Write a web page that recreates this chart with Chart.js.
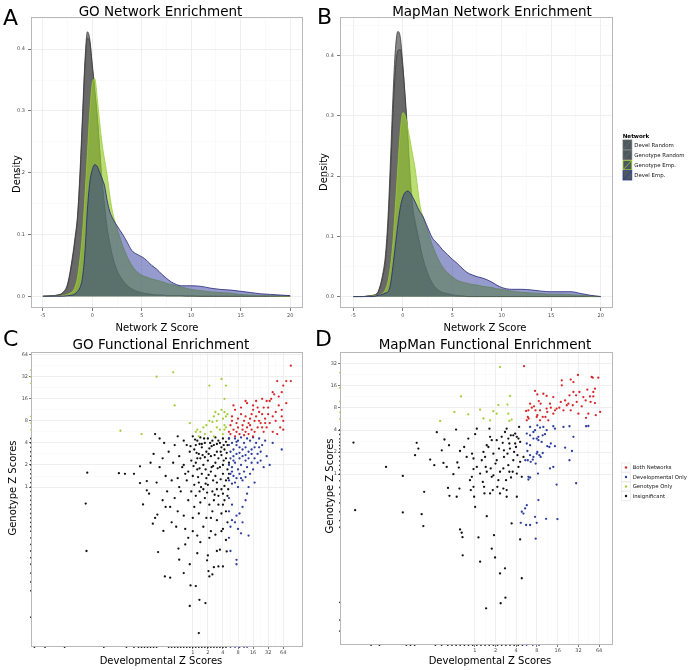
<!DOCTYPE html>
<html>
<head>
<meta charset="utf-8">
<title>Network and functional enrichment</title>
<script src="https://cdn.jsdelivr.net/npm/chart.js@4.4.1/dist/chart.umd.min.js"></script>
<style>
  html, body { margin: 0; padding: 0; background: #ffffff; }
  #fig { position: relative; width: 689px; height: 670px; overflow: hidden; background: #ffffff; }
  #fig canvas { position: absolute; }
  #overlay { position: absolute; left: 0; top: 0; font-family: 'DejaVu Sans', sans-serif; }
</style>
</head>
<body>
<div id="fig">
  <canvas id="chartA" width="310" height="335" style="left:0px;top:0px"></canvas>
  <canvas id="chartB" width="310" height="335" style="left:310px;top:0px"></canvas>
  <canvas id="chartC" width="310" height="335" style="left:0px;top:335px"></canvas>
  <canvas id="chartD" width="310" height="335" style="left:310px;top:335px"></canvas>
  <svg id="overlay" width="689" height="670" xmlns="http://www.w3.org/2000/svg">
    <g fill="#000" font-family="DejaVu Sans, sans-serif">
      <text x="3" y="24.5" font-size="22">A</text>
      <text x="317" y="24" font-size="22">B</text>
      <text x="3" y="346" font-size="22">C</text>
      <text x="315" y="346" font-size="22">D</text>
      <text x="160.5" y="15.5" font-size="13.5" text-anchor="middle">GO Network Enrichment</text>
      <text x="492" y="15.5" font-size="13.5" text-anchor="middle">MapMan Network Enrichment</text>
      <text x="161" y="348.5" font-size="13.5" text-anchor="middle">GO Functional Enrichment</text>
      <text x="485" y="348.5" font-size="13.5" text-anchor="middle">MapMan Functional Enrichment</text>
      <text x="157" y="331" font-size="10" text-anchor="middle">Network Z Score</text>
      <text x="485" y="331" font-size="10" text-anchor="middle">Network Z Score</text>
      <text transform="translate(19.5,174) rotate(-90)" font-size="10" text-anchor="middle">Density</text>
      <text transform="translate(326.5,172) rotate(-90)" font-size="10" text-anchor="middle">Density</text>
      <text transform="translate(16,488) rotate(-90)" font-size="10" text-anchor="middle">Genotype Z Scores</text>
      <text transform="translate(332.5,486) rotate(-90)" font-size="10" text-anchor="middle">Genotype Z Scores</text>
      <text x="161" y="664" font-size="10" text-anchor="middle">Developmental Z Scores</text>
      <text x="490" y="664" font-size="10" text-anchor="middle">Developmental Z Scores</text>
    </g>
    <g id="legendNet"></g>
    <g id="legendClass"></g>
  </svg>
</div>
<script>
Chart.defaults.font.family = "'DejaVu Sans', sans-serif";

// ---------- Density panels (A, B): x grid of Network Z Score ----------
const zGrid = [-5,-4,-3.5,-3,-2.5,-2,-1.75,-1.5,-1.25,-1,-0.75,-0.5,-0.25,0,0.25,0.5,0.75,1,1.25,1.5,1.75,2,2.5,3,3.5,4,4.5,5,5.5,6,6.5,7,7.5,8,8.5,9,9.5,10,11,12,13,14,15,16,17,18,19,20];

// Panel A – GO network enrichment densities
const goDevelRandom = [0,0.001,0.002,0.006,0.02, 0.065,0.095,0.13,0.2,0.29, 0.38,0.428,0.415,0.37,0.33, 0.29,0.235,0.18,0.14,0.108, 0.085,0.065,0.04,0.026,0.017, 0.011,0.008,0.005,0.004,0.003, 0.002,0.002,0.001,0.001,0.001, 0.001,0.0005,0.0005,0,0, 0,0,0,0,0, 0,0,0];
const goGenoRandom  = [0,0.001,0.002,0.005,0.018, 0.06,0.09,0.125,0.19,0.28, 0.37,0.418,0.41,0.375,0.335, 0.29,0.235,0.185,0.145,0.11, 0.088,0.068,0.042,0.028,0.018, 0.012,0.008,0.006,0.004,0.003, 0.002,0.002,0.001,0.001,0.001, 0.001,0.0005,0.0005,0,0, 0,0,0,0,0, 0,0,0];
const goGenoEmp     = [0,0,0,0.001,0.003, 0.008,0.015,0.03,0.06,0.1, 0.16,0.23,0.3,0.345,0.352, 0.32,0.28,0.245,0.22,0.195, 0.165,0.14,0.11,0.085,0.065, 0.05,0.04,0.034,0.031,0.028, 0.026,0.024,0.021,0.019,0.017, 0.015,0.013,0.011,0.009,0.007, 0.006,0.005,0.003,0.002,0.0015, 0.001,0.0005,0];
const goDevelEmp    = [0,0,0,0,0.001, 0.002,0.004,0.008,0.014,0.03, 0.07,0.14,0.185,0.205,0.213, 0.21,0.2,0.19,0.178,0.155, 0.138,0.128,0.114,0.102,0.088, 0.074,0.068,0.064,0.058,0.05, 0.044,0.036,0.029,0.023,0.019, 0.017,0.017,0.017,0.016,0.013, 0.011,0.01,0.008,0.006,0.004, 0.003,0.002,0.001];

// Panel B – MapMan network enrichment densities
const mmDevelRandom = [0,0,0.001,0.002,0.008, 0.04,0.07,0.13,0.225,0.33, 0.41,0.44,0.43,0.385,0.325, 0.26,0.19,0.145,0.125,0.105, 0.085,0.065,0.037,0.02,0.011, 0.006,0.004,0.002,0.001,0.001, 0,0,0,0,0, 0,0,0,0,0, 0,0,0,0,0, 0,0,0];
const mmGenoRandom  = [0,0,0.001,0.002,0.007, 0.035,0.06,0.115,0.2,0.3, 0.375,0.408,0.41,0.38,0.33, 0.27,0.2,0.15,0.12,0.1, 0.082,0.065,0.04,0.022,0.012, 0.007,0.005,0.003,0.002,0.001, 0,0,0,0,0, 0,0,0,0,0, 0,0,0,0,0, 0,0,0];
const mmGenoEmp     = [0,0,0,0.001,0.002, 0.006,0.012,0.025,0.05,0.09, 0.15,0.215,0.275,0.305,0.3, 0.28,0.258,0.235,0.212,0.18, 0.15,0.135,0.11,0.085,0.065, 0.05,0.04,0.033,0.027,0.024, 0.022,0.02,0.019,0.017,0.016, 0.015,0.013,0.012,0.009,0.007, 0.006,0.005,0.004,0.004,0.003, 0.002,0.001,0];
const mmDevelEmp    = [0,0,0,0,0.002, 0.004,0.006,0.008,0.02,0.05, 0.085,0.12,0.148,0.165,0.173, 0.175,0.172,0.165,0.157,0.148, 0.14,0.134,0.115,0.097,0.088, 0.078,0.07,0.062,0.055,0.047, 0.04,0.036,0.033,0.031,0.028, 0.024,0.019,0.015,0.012,0.012, 0.011,0.009,0.008,0.008,0.008, 0.005,0.002,0];

const netLegendLabels = ['Devel Random', 'Genotype Random', 'Genotype Emp.', 'Devel Emp.'];
const densityXMajor = [-5, 0, 5, 10, 15, 20];
const densityXMinor = [-2.5, 2.5, 7.5, 12.5, 17.5];
const densityYMajor = [0, 0.1, 0.2, 0.3, 0.4];
const densityYMinor = [0.05, 0.15, 0.25, 0.35, 0.45];

// ---------- Scatter panels (C, D): [log2 Developmental Z, log2 Genotype Z] ----------
const classLegendLabels = ['Both Networks', 'Developmental Only', 'Genotype Only', 'Insignificant'];
const log2Major = [0, 1, 2, 3, 4, 5, 6];
const log2Minor = [0.5, 1.5, 2.5, 3.5, 4.5, 5.5];

// Panel C – GO functional enrichment
const goBoth = [[6.5,5.5],[6.5,4.8],[6.2,4.8],[5.6,4.8],[6.0,4.6],[5.9,4.3],[5.3,4.3],[5.4,4.2],[5.2,4.0],[5.1,3.9],[4.6,4.0],[4.2,3.9],[4.0,3.7],[3.6,3.8],[3.5,3.9],[4.0,3.5],[4.7,3.6],[5.9,3.5],[5.9,3.2],[6.0,3.0],[6.0,2.6],[5.8,2.7],[5.5,3.0],[5.3,3.2],[5.0,3.3],[4.8,3.1],[4.6,3.3],[4.4,3.4],[4.2,3.2],[4.1,3.0],[3.9,3.3],[3.8,3.1],[3.7,2.9],[3.5,3.2],[3.4,3.0],[3.3,2.8],[3.2,3.3],[3.0,3.1],[2.9,2.9],[2.8,3.5],[2.7,3.7],[2.6,3.2],[2.5,2.8],[2.4,2.5],[2.5,2.4],[2.7,2.6],[2.9,2.5],[3.1,2.4],[3.3,2.6],[3.5,2.5],[3.7,2.4],[3.9,2.6],[4.1,2.5],[4.3,2.7],[4.5,2.9],[4.7,2.5],[4.9,2.7],[5.1,2.9],[5.3,2.5],[5.6,2.4],[3.0,2.7],[3.6,2.7],[4.4,3.0],[4.8,2.9],[5.5,3.4],[5.7,3.7],[5.0,3.6],[4.3,3.6],[3.2,3.6],[2.6,3.0],[3.8,2.8],[4.6,2.7],[2.8,2.3],[3.4,2.35],[4.0,2.3],[4.9,3.9],[5.7,4.1],[6.2,3.8]];
const goDevOnly = [[2.4,2.2],[2.6,2.0],[2.8,2.2],[3.0,2.1],[3.2,2.25],[3.4,2.0],[3.6,2.2],[3.8,2.1],[4.0,2.25],[4.2,2.0],[4.4,2.2],[4.6,1.9],[4.8,2.1],[5.3,2.0],[5.9,1.7],[5.1,1.0],[4.9,1.4],[4.5,1.6],[4.3,1.5],[4.1,1.8],[3.9,1.7],[3.7,1.6],[3.5,1.8],[3.3,1.7],[3.1,1.8],[2.9,1.9],[2.7,1.7],[2.5,1.6],[2.4,1.9],[2.5,1.3],[2.7,1.4],[2.9,1.5],[3.1,1.3],[3.3,1.4],[3.5,1.2],[3.7,1.3],[3.9,1.1],[4.1,1.3],[4.3,1.1],[4.5,1.2],[4.7,0.9],[2.4,1.0],[2.6,0.9],[2.8,1.1],[3.0,0.8],[3.2,1.0],[3.4,0.7],[3.6,0.9],[3.8,0.6],[4.0,0.8],[2.5,0.6],[2.7,0.5],[2.9,0.4],[3.1,0.6],[3.3,0.3],[3.5,0.45],[2.4,0.3],[2.6,0.15],[2.8,0.2],[3.0,0.0],[3.6,-0.3],[3.5,-0.6],[3.3,-0.9],[3.1,-1.2],[2.9,-1.3],[2.6,-1.5],[2.8,-1.6],[2.5,-1.8],[3.0,-1.9],[2.4,-2.3],[3.2,-2.1],[3.7,-2.2],[2.5,-2.9],[2.9,-3.3],[2.9,-3.5],[2.4,-0.5],[2.6,-0.8],[2.4,-1.1],[3.3,-1.6],[4.1,0.2],[3.7,0.0],[3.9,1.5],[4.4,1.8],[2.9,2.05],[3.5,1.45],[3.1,1.55],[2.7,1.2],[3.2,0.4],[2.6,0.7]];
const goGenoOnly = [[-1.3,5.2],[-2.4,5.0],[-1.2,3.7],[1.1,4.6],[1.9,4.9],[2.2,4.6],[2.1,4.0],[-4.8,2.55],[-3.4,2.4],[-0.2,2.9],[0.3,2.6],[0.5,2.5],[0.7,2.7],[0.9,2.8],[1.4,3.2],[1.5,3.4],[1.6,3.0],[1.7,3.3],[1.9,3.5],[2.0,3.1],[2.1,3.4],[2.2,3.2],[2.3,3.3],[1.2,2.5],[1.4,2.3],[1.6,2.7],[1.8,2.6],[2.0,2.4],[2.1,2.6],[0.4,2.3],[0.8,2.4],[0.2,2.5],[1.1,3.0],[1.3,2.95],[2.1,2.8],[2.2,2.7]];
const goInsig = [[-7.0,0.65],[-7.1,-0.75],[-7.05,-2.9],[-4.9,0.63],[-4.5,0.6],[-3.9,0.6],[-3.5,0.94],[-3.5,0.18],[-3.05,0.27],[-3.3,-0.79],[-3.05,-0.15],[-2.9,-0.3],[-2.65,-1.66],[-2.5,-1.4],[-2.35,-1.25],[-2.3,-2.95],[-1.95,-1.99],[-1.85,-4.05],[-1.5,-4.11],[-0.95,-2.79],[-0.9,-3.29],[-0.2,-3.5],[-0.15,-4.46],[0.2,-4.49],[-0.2,-5.39],[0.44,-5.11],[0.84,-5.26],[0.4,-6.62],[0.95,-3.32],[1.04,-3.81],[1.1,-4.05],[1.3,-3.96],[1.4,-3.63],[1.7,-3.6],[2.0,-3.6],[1.0,-3.1],[1.8,-2.84],[2.25,-2.92],[1.5,-2.16],
  [-2.2,2.2],[-1.9,2.0],[-1.6,1.6],[-2.0,1.3],[-2.6,1.5],[-2.8,1.1],[-2.2,0.9],[-1.8,0.5],[-1.4,0.3],[-2.4,0.2],[-1.7,-0.2],[-1.2,-0.5],[-2.0,-0.6],[-1.5,-0.9],[-1.0,-1.1],[-0.6,-1.3],[-1.1,-1.8],[-0.5,-1.9],[-0.3,-2.3],[0.3,-2.2],[0.7,-1.8],[1.2,-2.0],[1.6,-1.5],[2.0,-1.9],[2.2,-1.1],[-2.5,2.4],[-1.0,2.3],[-0.6,2.1],[-1.2,1.9],[-0.9,1.4],[-1.3,1.1],[-0.7,0.9],[-1.0,0.4],[-0.5,0.6],[-0.8,-0.2],[-0.3,-0.6],[0.1,-0.9],[0.4,-1.2],[0.9,-1.4],[1.3,-1.1],[1.7,-0.8],[2.1,-0.6],
  [0.0,2.3],[0.3,2.1],[0.5,2.25],[0.8,2.0],[1.0,2.2],[1.3,2.1],[1.5,2.25],[1.8,2.0],[2.0,2.2],[2.2,2.05],[2.3,1.9],[2.1,1.7],[1.9,1.8],[1.6,1.6],[1.4,1.9],[1.1,1.75],[0.9,1.6],[0.6,1.8],[0.4,1.5],[0.1,1.7],[-0.2,1.6],[-0.4,1.9],[-0.1,1.2],[0.2,1.1],[0.5,1.3],[0.7,1.0],[1.0,1.2],[1.2,1.4],[1.5,1.1],[1.7,1.3],[2.0,1.0],[2.2,1.3],[2.3,0.8],[2.0,0.6],[1.8,0.9],[1.5,0.5],[1.2,0.7],[0.9,0.4],[0.6,0.6],[0.3,0.8],[0.0,0.5],[-0.3,0.7],[0.1,0.1],[0.4,0.2],[0.7,-0.1],[1.0,0.1],[1.3,-0.2],[1.6,0.2],[1.9,-0.1],[2.2,0.3],[2.3,-0.4],[2.0,-0.8],[1.7,-0.4],[1.4,-0.6],[1.1,-0.8],[0.8,-0.5],[0.5,-0.7],[0.2,-0.4],[-0.1,-0.2],[0.6,1.95],[1.15,2.0],[1.7,2.1],[2.4,2.2],[0.2,1.9],[0.8,1.35],[1.35,0.95],[1.9,1.45],[2.35,0.4],[1.05,0.55],[0.55,0.0],[1.6,-0.1],[2.1,0.05],[0.3,1.3],[-0.6,1.0],[-0.9,0.0],[1.9,-1.2],[0.0,-1.4],[1.2,-1.4],[-0.4,0.3],
  [0.5,-2.5],[1.1,-2.3],[1.9,-2.0],[2.3,-1.6],[-0.5,-2.6],[0.0,-2.0],[-1.4,-1.6],[-1.8,-0.9],[2.2,-2.4],[1.6,-2.9],[0.3,-3.0],[-0.6,-3.9],
  [0.15,2.15],[0.45,1.95],[0.75,2.2],[1.25,1.85],[1.6,1.95],[2.05,1.9],[2.25,1.55],[1.85,1.6],[1.45,1.45],[1.05,1.5],[0.65,1.45],[0.25,1.55],[-0.15,1.85],[0.05,0.95],[0.45,0.85],[0.85,0.8],[1.25,0.9],[1.65,0.85],[2.05,1.2],[2.4,1.1],[2.4,0.6],[1.85,0.35],[1.35,0.3],[0.85,0.15],[0.35,0.45],[2.0,-0.3],[1.45,-0.35],[0.95,-0.25],[0.45,-0.2],[2.35,-0.1]];
// rug marks: genotype scores of terms with no developmental score (left edge), and vice versa (bottom edge)
const goRugLeftGeno  = [5.3,5.0,4.7,3.2,2.9,2.6];
const goRugLeftInsig = [2.2,2.0,1.8,1.6,1.4,1.2,1.0,0.8,0.6,0.4,0.2,0.0,-0.2,-0.4,-0.6,-0.8,-1.0,-1.2,-1.4,-1.6,-1.8,-2.0,-2.3,-2.6,-2.9,-3.2,-3.5,-3.9,-4.3,-4.7,-5.9];
const goRugBottomInsig = [-10.5,-9.8,-8.5,-5.9,-4.4,-3.9,-3.6,-3.4,-3.2,-3.0,-2.8,-2.6,-2.4,-1.6,-1.4,-1.2,-1.0,-0.8,-0.6,-0.4,-0.2,0.0,0.2,0.4,0.6,0.8,1.0,1.2,1.4,1.6,1.8,2.0,2.2];
const goRugBottomDev   = [2.5,2.8,3.1,3.4,3.6];

// Panel D – MapMan functional enrichment
const mmBoth = [[2.38,4.89],[4.63,4.28],[4.98,4.49],[4.2,4.25],[4.2,4.02],[5.64,4.4],[5.69,4.37],[5.96,4.37],[4.76,4.17],[5.43,3.83],[5.8,3.87],[5.72,3.72],[5.56,3.52],[5.35,3.34],[5.24,3.49],[5.05,3.72],[4.89,3.57],[4.76,3.72],[4.57,3.57],[4.36,3.34],[4.15,3.27],[4.08,3.01],[3.87,2.89],[3.67,3.01],[3.47,2.97],[3.5,2.82],[3.41,2.59],[3.15,2.44],[3.02,2.67],[2.93,2.89],[2.86,3.07],[2.91,3.77],[3.02,3.61],[3.09,3.31],[3.18,3.19],[3.31,3.64],[3.47,3.54],[2.67,3.19],[2.75,3.01],[2.59,2.89],[2.48,2.86],[2.56,2.59],[2.51,2.44],[2.6,2.52],[2.99,2.59],[3.28,2.59],[3.55,2.44],[3.79,2.74],[3.95,2.97],[4.44,3.12],[4.63,2.89],[4.73,3.12],[4.92,3.27],[5.16,3.07],[5.59,3.27],[5.8,3.22],[5.84,2.67],[6.05,2.82],[5.37,2.55],[5.48,2.74],[5.72,3.52],[3.79,3.49],[3.63,3.19],[4.28,2.89],[4.52,3.19],[5.0,2.74],[3.15,2.89]];
const mmDevOnly = [[2.67,2.14],[2.83,1.91],[2.91,1.99],[3.02,2.21],[3.15,2.11],[3.31,2.14],[3.47,1.99],[3.79,2.17],[3.87,2.06],[4.28,2.14],[4.57,2.17],[5.37,2.17],[5.48,2.18],[2.51,1.84],[2.67,1.76],[2.83,1.61],[3.07,1.69],[3.28,1.76],[3.39,1.81],[2.51,1.39],[2.67,1.31],[2.99,1.61],[3.07,1.54],[3.23,1.46],[3.5,1.27],[3.6,1.23],[3.67,1.39],[3.87,1.27],[4.36,1.2],[4.76,1.69],[2.54,1.05],[2.67,0.86],[2.83,0.78],[2.99,0.93],[3.02,1.01],[3.12,0.86],[3.18,0.78],[3.28,0.96],[2.44,0.63],[2.56,0.63],[2.7,0.56],[2.8,0.66],[2.94,0.48],[3.63,0.26],[3.79,0.33],[4.57,0.63],[4.69,1.05],[2.59,-0.12],[2.67,-0.15],[2.59,-0.24],[3.05,0.03],[3.95,-0.47],[4.89,-0.41],[3.07,-1.17],[2.51,-1.4],[2.43,-1.55],[2.35,-1.78],[2.27,-1.7],[2.91,-1.93],[2.99,-2.2],[3.44,-2.02],[3.99,-2.03],[2.67,-2.3],[2.48,-2.3],[2.22,-2.2],[2.94,-2.92]];
const mmGenoOnly = [[1.22,4.85],[-0.66,3.52],[1.7,3.54],[1.14,3.13],[1.58,3.15],[0.26,2.92],[0.9,2.85],[1.06,2.74],[-0.98,2.82],[-0.31,2.71],[-1.67,2.41],[0.42,2.52],[0.74,2.44],[1.62,2.74],[1.67,2.41],[1.78,2.47]];
const mmInsig = [[-5.85,1.43],[-5.77,-1.63],[-4.28,0.33],[-3.47,-0.08],[-3.47,-1.73],[-2.88,0.86],[-2.8,1.42],[-2.72,1.16],[-2.56,-1.81],[-2.48,-2.35],[-2.44,-0.8],[-2.15,0.66],[-1.95,0.41],[-1.83,1.9],[-1.59,1.08],[-1.51,0.51],[-1.46,1.57],[-1.35,0.33],[-1.29,-0.62],[-1.24,1.31],[-1.22,-0.98],[-1.03,0.0],[-0.9,2.02],[-0.87,-1.02],[-0.84,0.53],[-0.77,0.3],[-0.74,-0.65],[-0.71,1.05],[-0.71,-2.5],[-0.63,-2.65],[-0.59,-2.85],[-0.58,-3.67],[-0.51,1.23],[-0.39,0.78],[-0.31,1.61],[-0.23,-0.27],[-0.19,-0.72],[-0.14,-0.12],[-0.13,0.93],[-0.06,0.23],[-0.06,0.71],[-0.03,-1.02],[0.02,-1.48],[0.02,1.81],[0.1,2.06],[0.18,-2.86],[0.26,-3.96],[0.39,-0.35],[0.42,1.01],[0.47,-0.87],[0.5,0.78],[0.53,0.33],[0.58,-1.9],[0.66,1.23],[0.71,2.06],[0.74,1.69],[0.77,0.26],[0.82,-0.12],[0.82,-3.37],[0.87,-0.72],[0.9,0.93],[0.93,-2.76],[0.98,-3.77],[1.0,0.48],[1.06,0.63],[1.09,-0.57],[1.14,-0.27],[1.17,1.16],[1.22,-4.49],[1.25,-5.84],[1.3,1.69],[1.35,1.42],[1.38,0.26],[1.41,0.78],[1.46,-4.26],[1.48,-5.59],[1.51,-0.27],[1.54,2.06],[1.54,-0.72],[1.58,0.93],[1.62,1.61],[1.62,0.41],[1.7,1.16],[1.75,-0.15],[1.78,-2.23],[1.83,0.11],[1.86,0.63],[1.9,1.01],[1.95,1.84],[1.99,1.23],[2.03,1.69],[2.06,0.86],[2.11,0.33],[2.14,2.14],[2.19,-2.95],[2.27,-4.71],[2.27,-0.12],[2.35,0.78],[0.55,-6.07],[2.03,-1.02],[1.54,-1.02],[1.22,-0.87],[0.74,-0.87],[0.45,-0.57],[-0.06,-0.57],[1.38,-0.65],
  [1.86,1.76],[2.11,1.61],[2.19,1.46],[1.95,1.39],[1.67,1.39],[1.41,1.08],[1.06,1.54],[0.82,1.54],[0.58,1.31],[0.34,0.63],[0.1,0.33],[0.26,0.03],[0.58,0.11],[0.9,-0.05],[1.22,0.11],[1.67,0.11],[2.03,0.03],[2.19,0.56],[1.74,1.76],[1.46,1.91]];
const mmRugLeftGeno  = [4.6,3.9,3.3,2.8,2.5];
const mmRugLeftInsig = [2.0,1.8,1.6,1.45,1.3,1.15,1.0,0.8,0.6,0.4,0.2,0.0,-0.3,-0.6,-0.9,-1.3,-1.7,-2.1,-2.4,-5.8,-6.6,-7.1];
const mmRugBottomInsig = [-5.0,-4.6,-3.3,-3.1,-2.9,-1.9,-1.6,-1.3,-1.1,-0.9,-0.7,-0.5,-0.3,-0.1,0.1,0.3,0.5,0.7,0.9,1.1,1.3,1.5,1.7,1.9,2.1,2.3];
const mmRugBottomDev   = [2.5,2.8,3.1];

// ---------- styling ----------
const netStyles = [
  { fill: 'rgba(95,95,95,0.75)',  line: '#3c3c3c', key: '#6a6a6a' },
  { fill: 'rgba(95,95,95,0.75)',  line: '#3c3c3c', key: '#6a6a6a' },
  { fill: 'rgba(154,205,50,0.68)', line: '#9acd32', key: '#9acd32' },
  { fill: 'rgba(35,45,150,0.48)', line: '#23237a', key: '#2a3590' }
];
const classColors = ['#d7262b', '#2c3e9f', '#a5cd39', '#111111'];

const panelBorder = {
  id: 'panelBorder',
  afterDatasetsDraw(chart) {
    const { ctx, chartArea: a } = chart;
    ctx.save();
    ctx.strokeStyle = '#b8b8b8';
    ctx.lineWidth = 1;
    ctx.strokeRect(Math.round(a.left) + 0.5, Math.round(a.top) + 0.5,
                   Math.round(a.right - a.left) - 1, Math.round(a.bottom - a.top) - 1);
    ctx.restore();
  }
};

function axis(o) {
  const all = o.major.concat(o.minor).filter(v => v >= o.min && v <= o.max).sort((a, b) => a - b);
  const isMajor = c => c.tick && o.major.includes(c.tick.value);
  return {
    type: 'linear', min: o.min, max: o.max,
    afterBuildTicks: s => { s.ticks = all.map(v => ({ value: v })); },
    afterFit: s => { if (o.horizontal) s.height = o.size; else s.width = o.size; },
    ticks: {
      autoSkip: false, maxRotation: 0, minRotation: 0, padding: o.pad,
      color: '#4d4d4d', font: { size: 5 },
      callback: v => o.major.includes(v) ? o.label(v) : ''
    },
    grid: {
      color: c => isMajor(c) ? '#ebebeb' : '#f5f5f5',
      lineWidth: c => isMajor(c) ? 0.8 : 0.5,
      tickColor: c => isMajor(c) ? '#555555' : 'rgba(0,0,0,0)',
      tickWidth: 0.8,
      tickLength: o.tickLength,
      drawTicks: true
    },
    border: { display: false }
  };
}

function densityChart(id, series, xr, yr, yWidth) {
  new Chart(document.getElementById(id), {
    type: 'line',
    data: {
      datasets: series.map((vals, i) => ({
        label: netLegendLabels[i],
        data: zGrid.map((x, k) => ({ x: x, y: vals[k] })),
        fill: 'origin',
        backgroundColor: netStyles[i].fill,
        borderColor: netStyles[i].line,
        borderWidth: 0.8,
        pointRadius: 0,
        cubicInterpolationMode: 'monotone',
        order: 4 - i
      }))
    },
    options: {
      responsive: false, animation: false, events: [],
      layout: { padding: { left: 0, top: 17, right: 7, bottom: 11 } },
      plugins: { legend: { display: false }, tooltip: { enabled: false } },
      scales: {
        x: axis({ min: xr[0], max: xr[1], major: densityXMajor, minor: densityXMinor,
                  label: v => String(v), horizontal: true, size: 16, tickLength: 3, pad: 2 }),
        y: axis({ min: yr[0], max: yr[1], major: densityYMajor, minor: densityYMinor,
                  label: v => v.toFixed(1), size: yWidth, tickLength: 3, pad: 3 })
      }
    },
    plugins: [panelBorder]
  });
}

function scatterChart(id, groups, rugs, xr, yr, yMajor, yMinor, yWidth, bottomPad) {
  const pts = arr => arr.map(p => ({ x: p[0], y: p[1] }));
  const datasets = [];
  rugs.left.forEach(r => datasets.push({
    data: r.values.map(y => ({ x: xr[0], y: y })), backgroundColor: r.color,
    pointRadius: 0.9, borderWidth: 0, clip: false, pointHoverRadius: 0
  }));
  rugs.bottom.forEach(r => datasets.push({
    data: r.values.map(x => ({ x: x, y: yr[0] })), backgroundColor: r.color,
    pointRadius: 0.9, borderWidth: 0, clip: false, pointHoverRadius: 0
  }));
  groups.forEach((g, i) => datasets.push({
    label: classLegendLabels[i], data: pts(g), backgroundColor: classColors[i],
    pointRadius: 1.15, borderWidth: 0, pointHoverRadius: 0
  }));
  new Chart(document.getElementById(id), {
    type: 'scatter',
    data: { datasets: datasets },
    options: {
      responsive: false, animation: false, events: [],
      layout: { padding: { left: 0, top: 17, right: 7, bottom: bottomPad } },
      plugins: { legend: { display: false }, tooltip: { enabled: false } },
      scales: {
        x: axis({ min: xr[0], max: xr[1], major: log2Major, minor: log2Minor,
                  label: v => String(Math.pow(2, v)), horizontal: true, size: 16, tickLength: 2, pad: 1 }),
        y: axis({ min: yr[0], max: yr[1], major: yMajor, minor: yMinor,
                  label: v => String(Math.pow(2, v)), size: yWidth, tickLength: 2, pad: 1 })
      }
    },
    plugins: [panelBorder]
  });
}

densityChart('chartA', [goDevelRandom, goGenoRandom, goGenoEmp, goDevelEmp], [-6.2, 21.3], [-0.019, 0.452], 31);
densityChart('chartB', [mmDevelRandom, mmGenoRandom, mmGenoEmp, mmDevelEmp], [-6.35, 21.25], [-0.019, 0.464], 30);

scatterChart('chartC', [goBoth, goDevOnly, goGenoOnly, goInsig],
  { left: [{ values: goRugLeftGeno, color: classColors[2] }, { values: goRugLeftInsig, color: classColors[3] }],
    bottom: [{ values: goRugBottomInsig, color: classColors[3] }, { values: goRugBottomDev, color: classColors[1] }] },
  [-10.73, 7.31], [-7.25, 6.12], log2Major, log2Minor, 31, 7);
scatterChart('chartD', [mmBoth, mmDevOnly, mmGenoOnly, mmInsig],
  { left: [{ values: mmRugLeftGeno, color: classColors[2] }, { values: mmRugLeftInsig, color: classColors[3] }],
    bottom: [{ values: mmRugBottomInsig, color: classColors[3] }, { values: mmRugBottomDev, color: classColors[1] }] },
  [-6.5, 6.67], [-7.73, 5.53], [0, 1, 2, 3, 4, 5], [0.5, 1.5, 2.5, 3.5, 4.5], 30, 9);

// ---------- legends (SVG text + keys) ----------
const NS = 'http://www.w3.org/2000/svg';
function el(tag, attrs, parent, text) {
  const e = document.createElementNS(NS, tag);
  for (const k in attrs) e.setAttribute(k, attrs[k]);
  if (text !== undefined) e.textContent = text;
  parent.appendChild(e);
  return e;
}
const gNet = document.getElementById('legendNet');
el('text', { x: 622.7, y: 137.5, 'font-size': 5.6, 'font-weight': 'bold', fill: '#000' }, gNet, 'Network');
netLegendLabels.forEach((lab, i) => {
  const y = 140 + i * 10.2;
  el('rect', { x: 623, y: y, width: 8.8, height: 9.4, fill: '#4c5a60', stroke: netStyles[i].key, 'stroke-width': 0.8 }, gNet);
  el('line', { x1: 623.4, y1: y + 9, x2: 631.4, y2: y + 0.4, stroke: netStyles[i].key, 'stroke-width': 0.8 }, gNet);
  el('text', { x: 634.3, y: y + 6.6, 'font-size': 5.4, fill: '#111' }, gNet, lab);
});
const gCls = document.getElementById('legendClass');
classLegendLabels.forEach((lab, i) => {
  const y = 463 + i * 9.5;
  el('rect', { x: 621.5, y: y, width: 9, height: 9, fill: '#ffffff', stroke: '#e3e3e3', 'stroke-width': 0.6 }, gCls);
  el('circle', { cx: 626, cy: y + 4.5, r: 1.2, fill: classColors[i] }, gCls);
  el('text', { x: 632.7, y: y + 6.4, 'font-size': 5.3, fill: '#111' }, gCls, lab);
});
</script>
</body>
</html>
